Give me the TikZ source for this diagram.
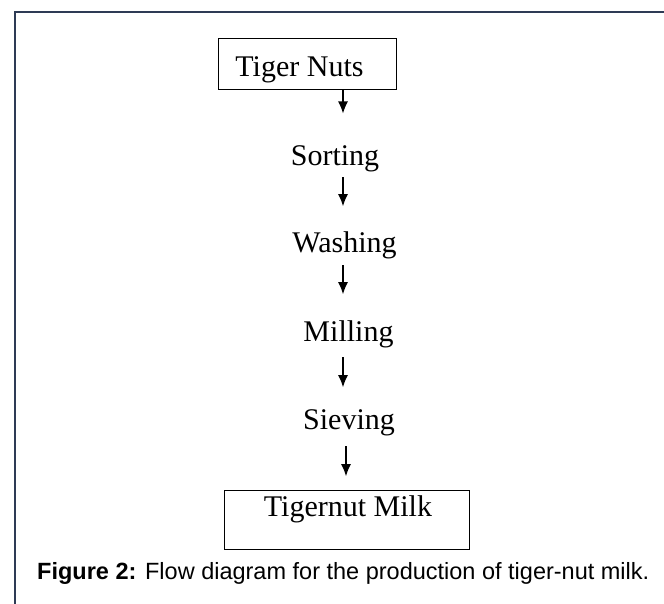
\documentclass[tikz,border=0pt]{standalone}
\usepackage{fontspec}
\setmainfont{Liberation Serif}
\setsansfont{Liberation Sans}
\usetikzlibrary{calc}
\usetikzlibrary{arrows.meta}
\tikzset{>={Latex[length=12pt,width=10pt]}}
\definecolor{framecol}{HTML}{2E3B55}

\begin{document}
\begin{tikzpicture}[x=1pt,y=1pt,
	stage/.style={inner sep=0pt,anchor=base,font=\fontsize{30}{36}\selectfont},
	stagebox/.style={draw,line width=1pt},
	flow/.style={->,line width=1.2pt}]
	\useasboundingbox (0,0) rectangle (664,604);
	\draw[framecol,line width=1.5pt] (15,0)--(15,592)--(664,592);
	\node[stagebox,minimum width=178pt,minimum height=51pt] (nuts box) at (307,539.5) {};
	\node[stage] (nuts) at (299.5,527.3) {Tiger Nuts};
	\node[stage] (sort) at (335,438.5) {Sorting};
	\node[stage] (wash) at (344.5,351) {Washing};
	\node[stage] (mill) at (348.5,262) {Milling};
	\node[stage] (sieve) at (349,174) {Sieving};
	\node[stagebox,minimum width=245pt,minimum height=59pt] (milk box) at (346.5,83.5) {};
	\node[stage] (milk) at (348,87) {Tigernut Milk};
	\draw[flow] ($(nuts box.south)+(36,0)$) -- ++(0,-23);
	\draw[flow] ($(sort.south)+(8,-5)$) -- ++(0,-29);
	\draw[flow] ($(wash.south)+(-1.5,-5.5)$) -- ++(0,-29);
	\draw[flow] ($(mill.south)+(-5.5,-8.5)$) -- ++(0,-30);
	\draw[flow] ($(sieve.south)+(-3,-9.5)$) -- ++(0,-30);
	\node[anchor=base west,inner sep=0pt,font=\sffamily\fontsize{23.5}{28}\selectfont] (caption) at (37,24) {\textbf{Figure 2:} Flow diagram for the production of tiger-nut milk.};
\end{tikzpicture}
\end{document}
